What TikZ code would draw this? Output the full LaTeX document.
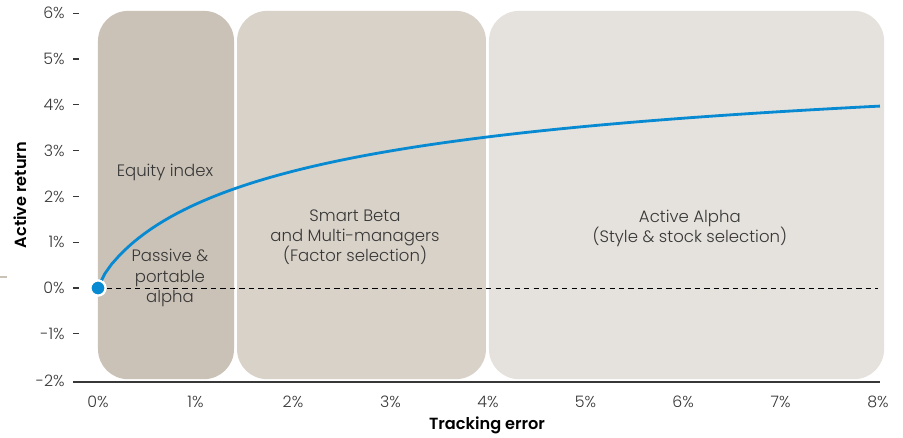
\documentclass[tikz,border=0pt]{standalone}
\usepackage{fontspec}
\setmainfont{Poppins}[UprightFont={* Light}, BoldFont={* SemiBold}]
\usetikzlibrary{positioning}
\definecolor{mytan}{RGB}{203,194,183}
\definecolor{mybeige}{RGB}{217,210,201}
\definecolor{mylight}{RGB}{229,225,220}
\definecolor{myblue}{RGB}{8,138,210}
\definecolor{mygrey}{RGB}{55,55,55}
\newcommand{\sizelabel}{\fontsize{9.4}{11.4}\selectfont}
\newcommand{\sizetick}{\fontsize{9}{10}\selectfont}
\newcommand{\sizeaxis}{\fontsize{9.2}{10}\selectfont}
\tikzset{
    panel/.style={rounded corners=0.6cm},
    ticklabel/.style={font=\sizetick, text=mygrey, inner sep=0pt},
    zonelabel/.style={font=\sizelabel, text=mygrey, align=center, inner sep=0pt},
    axislabel/.style={font=\sizeaxis\bfseries, text=black, inner sep=0pt},
    riskcurve/.style={myblue, line width=1.6pt},
    zeroline/.style={black, dashed, dash pattern=on 3pt off 2.4pt, line width=0.5pt},
    startdot/.style={circle, fill=myblue, draw=white, line width=1.2pt, minimum size=0.3cm, inner sep=0pt}
}

\begin{document}
\begin{tikzpicture}[x=1.95cm, y=0.916cm]
            \useasboundingbox (-1.005,-3.253) rectangle (8.256,6.288);

            % the three zones behind the curve
            \fill[mytan, panel] (0,-1.99) rectangle (1.395,6.05);
            \fill[mybeige, panel] (1.426,-1.99) rectangle (3.979,6.05);
            \fill[mylight, panel] (4.010,-1.99) rectangle (8.062,6.05);
            \draw[mytan, line width=0.6pt] (-1.005,0.24) -- ++(0.07,0);

            % axes
            \coordinate (xaxisL) at (-0.256,-2.05);
            \coordinate (xaxisR) at (8.02,-2.05);
            \draw[mygrey, line width=0.7pt] (xaxisL) -- (xaxisR);
            \foreach \y in {6,5,...,-1} {
                \draw[mygrey, line width=0.6pt] (-0.256,\y) -- (-0.195,\y);
                \node[ticklabel, anchor=east] (ytick\y) at (-0.338,\y) {\y\%};
            }
            \node[ticklabel, anchor=east] (ytickm2) at (-0.338,-2.02) {-2\%};
            \foreach \x in {0,...,8}
                \node[ticklabel] (xtick\x) at (\x,-2.49) {\x\%};

            \node[axislabel] (xlabel) at (3.99,-2.99) {Tracking error};
            \node[axislabel, rotate=90] (ylabel) at (-0.80,2.03) {Active return};

            % zone names
            \node[zonelabel] (equity) at (0.687,2.53) {Equity index};
            \node[zonelabel] (passive) at (0.738,0.22) {Passive \&\\portable\\alpha};
            \node[zonelabel] (smart) at (2.636,1.11) {Smart Beta\\and Multi-managers\\(Factor selection)};
            \node[zonelabel] (active) at (6.07,1.31) {Active Alpha\\(Style \& stock selection)};

            % zero line and the return curve (saturating, y = A x^p / (x^p + k))
            \coordinate (zeroend) at (8.0,0);
            \node[startdot] (start) at (0,0) {};
            \draw[zeroline] (start) -- (zeroend);
            \draw[riskcurve] (start.center) -- plot[domain=0.003:8.02, samples=120]
                (\x, {5.469*(\x)^0.8/((\x)^0.8+1.993)});
            \node[startdot] at (start) {};
        \end{tikzpicture}
\end{document}
